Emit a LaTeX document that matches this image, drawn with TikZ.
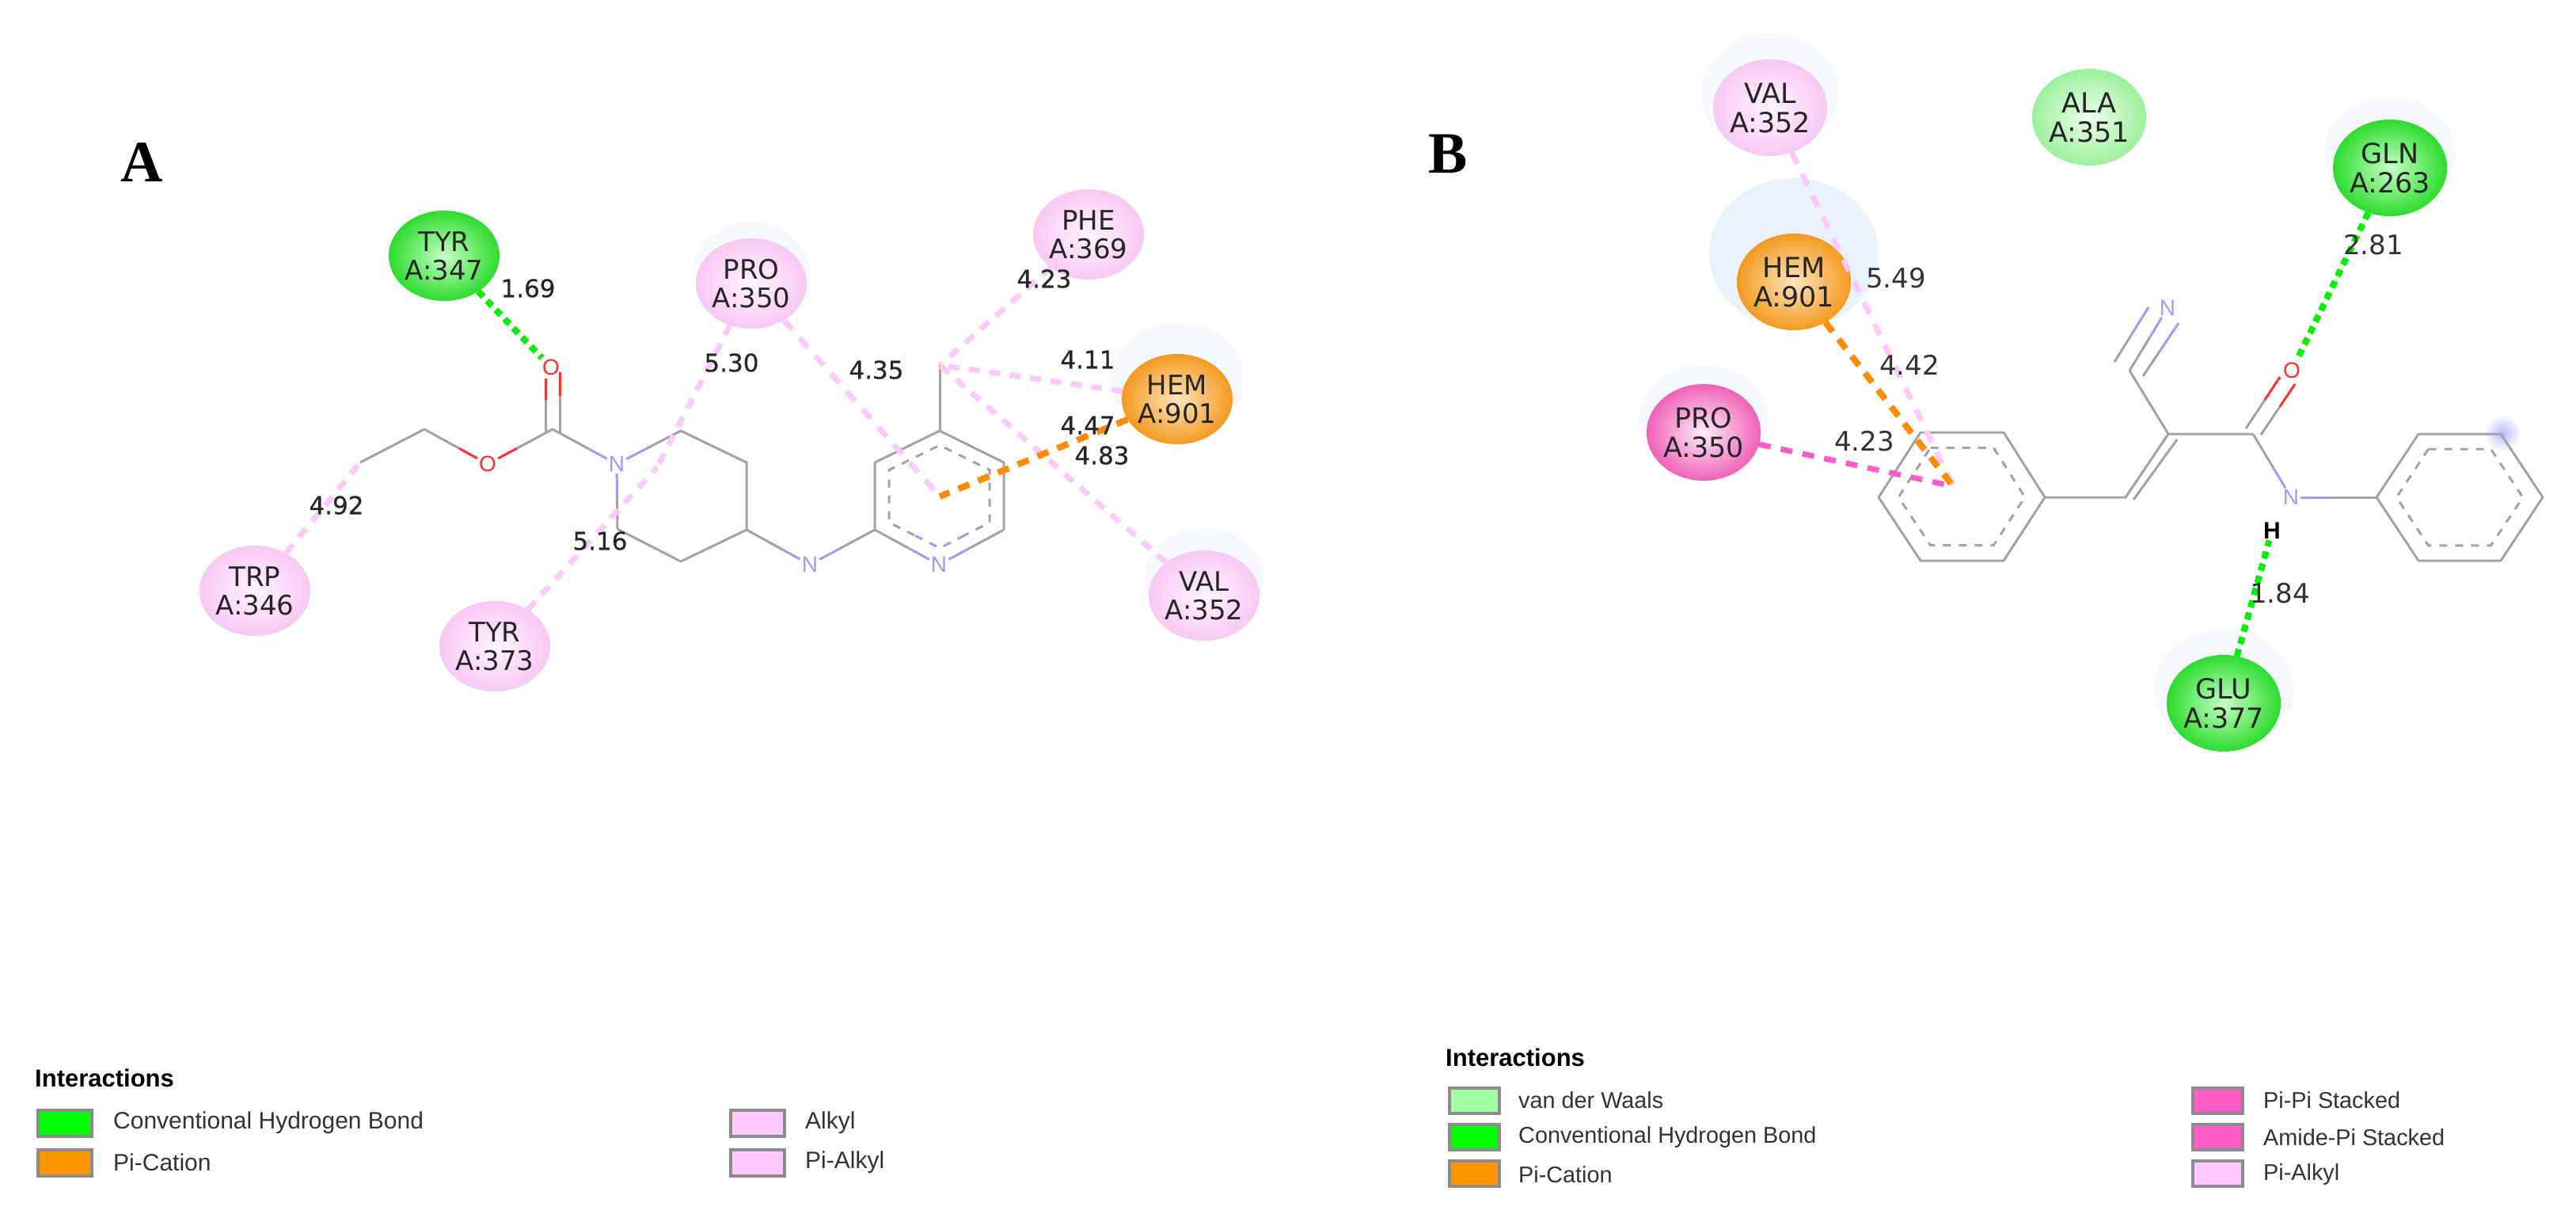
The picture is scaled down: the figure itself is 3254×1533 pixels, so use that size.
\documentclass[tikz,border=0pt]{standalone}
\usepackage{fontspec}
\setmainfont{DejaVu Sans}
\newfontfamily\legfont{Liberation Sans}
\newfontfamily\lblfont[FakeBold=0.5]{DejaVu Sans}
\newfontfamily\panelfont{Liberation Serif}
\usetikzlibrary{shapes.geometric,calc}
\definecolor{bondgray}{HTML}{A3A3A3}
\definecolor{atomN}{HTML}{9C9CFF}
\definecolor{atomO}{HTML}{FF3030}
\definecolor{halo}{HTML}{F6FAFE}
\definecolor{halob}{HTML}{EAF2FC}
\definecolor{cAlkyl}{HTML}{FFC8FF}
\definecolor{cHb}{HTML}{00F000}
\definecolor{cOrange}{HTML}{FF8C00}
\definecolor{cPink}{HTML}{FF5CC6}
\definecolor{alkIn}{HTML}{FFF4FF}
\definecolor{alkOut}{HTML}{F8C8F4}
\definecolor{hbIn}{HTML}{C4FFC4}
\definecolor{hbOut}{HTML}{2EDC2E}
\definecolor{orIn}{HTML}{FFE4BC}
\definecolor{orOut}{HTML}{F39A20}
\definecolor{piIn}{HTML}{FFECF8}
\definecolor{piOut}{HTML}{F062B8}
\definecolor{vdIn}{HTML}{ECFFEC}
\definecolor{vdOut}{HTML}{9CF09C}
\definecolor{swOrange}{HTML}{FF9500}
\definecolor{swVdw}{HTML}{A0FFA0}
\tikzset{
  res/.style={ellipse,inner sep=0pt,minimum width=122pt,minimum height=114pt,align=center,text=black!85,font=\fontsize{34}{36}\selectfont},
  resb/.style={res,minimum width=136pt,minimum height=122pt,font=\fontsize{35}{37}\selectfont},
  alkylres/.style={shade,inner color=alkIn,outer color=alkOut},
  hbres/.style={shade,inner color=hbIn,outer color=hbOut},
  orangeres/.style={shade,inner color=orIn,outer color=orOut},
  pinkres/.style={shade,inner color=piIn,outer color=piOut},
  vdwres/.style={shade,inner color=vdIn,outer color=vdOut},
  bond/.style={draw=bondgray,line width=3pt},
  nbond/.style={draw=atomN,line width=3pt},
  obond/.style={draw=atomO,line width=3pt},
  innerring/.style={draw=bondgray,line width=3pt,dash pattern=on 10pt off 10pt},
  innerblue/.style={draw=atomN,line width=3pt,dash pattern=on 10pt off 10pt},
  atomn/.style={text=atomN,inner sep=2pt,font=\legfont\fontsize{28}{28}\selectfont},
  atomo/.style={text=atomO,inner sep=2pt,font=\legfont\fontsize{28}{28}\selectfont},
  atomh/.style={text=black,inner sep=2pt,font=\legfont\bfseries\fontsize{30}{30}\selectfont},
  alkyl/.style={draw=cAlkyl,line width=7pt,dash pattern=on 14pt off 12pt},
  pialkyl/.style={draw=cAlkyl,line width=7pt,dash pattern=on 16pt off 14pt},
  hbond/.style={draw=cHb,line width=8pt,dash pattern=on 9pt off 7pt},
  cation/.style={draw=cOrange,line width=8pt,dash pattern=on 15pt off 12pt},
  pipi/.style={draw=cPink,line width=7pt,dash pattern=on 15pt off 13pt},
  dist/.style={inner sep=0pt,text=black!85,font=\lblfont\fontsize{31}{31}\selectfont},
  distb/.style={inner sep=0pt,text=black!80,font=\fontsize{34}{34}\selectfont},
  panel/.style={inner sep=0pt,text=black,font=\panelfont\bfseries\fontsize{74}{74}\selectfont},
  swatch/.style={draw=gray!90,line width=4pt,inner sep=0pt,minimum width=68pt,minimum height=33pt},
  swatchb/.style={swatch,minimum width=63pt,minimum height=32pt},
  legtitle/.style={inner sep=0pt,anchor=west,text=black,font=\legfont\bfseries\fontsize{31}{31}\selectfont},
  legtext/.style={inner sep=0pt,anchor=west,text=black!80,font=\legfont\fontsize{30}{30}\selectfont},
  legtextb/.style={inner sep=0pt,anchor=west,text=black!80,font=\legfont\fontsize{28.8}{28.8}\selectfont},
}
\newcommand{\hetbond}[3]{%
  \draw[bond] (#1) -- ($(#1)!.55!(#2)$);
  \draw[#3] ($(#1)!.55!(#2)$) -- (#2);}
\begin{document}
\begin{tikzpicture}[x=1pt,y=-1pt]
\useasboundingbox[fill=white] (0,0) rectangle (3254,1533);
% ---------- halos
\fill[halo] (949,345) ellipse (74pt and 65pt);
\fill[halo] (1487,477) ellipse (84pt and 69pt);
\fill[halo] (1521,731) ellipse (75pt and 65pt);
\fill[halo] (2236,117) ellipse (87pt and 75pt);
\fill[halob] (2266,320) ellipse (107pt and 95pt);
\fill[halo] (2152,531) ellipse (82pt and 70pt);
\fill[halo] (3019,193) ellipse (83pt and 70pt);
\fill[halo] (2809,870) ellipse (88pt and 75pt);
\shade[inner color=atomN!70,outer color=white] (3161,547) circle (24pt);
% ---------- panel labels
\node[panel] (labA) at (179,205) {A};
\node[panel] (labB) at (1829,194) {B};
% ---------- residues A
\node[res,hbres] (tyrA) at (561,323) {TYR\\A:347};
\node[res,alkylres] (trpA) at (322,746) {TRP\\A:346};
\node[res,alkylres] (tyrtA) at (625,816) {TYR\\A:373};
\node[res,alkylres] (proA) at (949,358) {PRO\\A:350};
\node[res,alkylres] (pheA) at (1375,296) {PHE\\A:369};
\node[res,orangeres] (hemA) at (1487,504) {HEM\\A:901};
\node[res,alkylres] (valA) at (1521,752) {VAL\\A:352};
% ---------- molecule A
\node[atomo] (oa) at (696,464) {O};
\node[atomo] (oe) at (616,586) {O};
\node[atomn] (na) at (779,586) {N};
\node[atomn] (nh) at (1023,713) {N};
\node[atomn] (npy) at (1186,713) {N};
\coordinate (me) at (455,584);
\coordinate (ch) at (536,542);
\coordinate (cc) at (698,542);
\coordinate (cca) at (689,546);
\coordinate (ccb) at (707,546);
\coordinate (oca) at (689,478);
\coordinate (ocb) at (707,470);
\coordinate (p1) at (860,544);
\coordinate (p2) at (943,584);
\coordinate (p3) at (943,669);
\coordinate (p4) at (860,709);
\coordinate (p5) at (780,668);
\coordinate (r1) at (1187,544);
\coordinate (r2) at (1268,584);
\coordinate (r3) at (1268,669);
\coordinate (r4) at (1187,692);
\coordinate (r5) at (1105,669);
\coordinate (r6) at (1105,584);
\coordinate (rme) at (1187,461);
\coordinate (rc) at (1187,627);
\coordinate (il) at ($(rc)!.78!(r5)$);
\coordinate (ir) at ($(rc)!.78!(r3)$);
\coordinate (iml) at ($(il)!.5!(r4)$);
\coordinate (imr) at ($(ir)!.5!(r4)$);
\coordinate (pivA) at (830,590);
\draw[bond] (me) -- (ch);
\hetbond{ch}{oe}{obond}
\hetbond{cc}{oe}{obond}
\hetbond{cc}{na}{nbond}
\draw[bond] (cca) -- ($(cca)!.6!(oca)$); \draw[obond] ($(cca)!.6!(oca)$) -- (oca);
\draw[bond] (ccb) -- ($(ccb)!.6!(ocb)$); \draw[obond] ($(ccb)!.6!(ocb)$) -- (ocb);
\hetbond{p1}{na}{nbond}
\hetbond{p5}{na}{nbond}
\draw[bond] (p1) -- (p2) -- (p3) -- (p4) -- (p5);
\hetbond{p3}{nh}{nbond}
\hetbond{r5}{nh}{nbond}
\hetbond{r5}{npy}{nbond}
\hetbond{r3}{npy}{nbond}
\draw[bond,line join=round] (r5) -- (r6) -- (r1) -- (r2) -- (r3);
\draw[bond] (r1) -- (rme);
\draw[innerring] (iml) -- (il) -- ($(rc)!.78!(r6)$) -- ($(rc)!.78!(r1)$) -- ($(rc)!.78!(r2)$) -- (ir) -- (imr);
\draw[innerblue] (imr) -- (r4) -- (iml);
% ---------- connectors A
\draw[hbond] (tyrA) -- (oa);
\draw[alkyl] (trpA) -- (me);
\draw[alkyl] (tyrtA) -- (pivA);
\draw[alkyl] (proA) -- (pivA);
\draw[pialkyl] (proA) -- (rc);
\draw[alkyl] (pheA) -- (rme);
\draw[alkyl] (hemA) -- (rme);
\draw[alkyl] (valA) -- (rme);
\draw[cation] (hemA) -- (rc);
% ---------- distances A
\node[dist] (d169) at (667,364) {1.69};
\node[dist] (d492) at (425,638) {4.92};
\node[dist] (d516) at (758,683) {5.16};
\node[dist] (d530) at (924,458) {5.30};
\node[dist] (d435) at (1107,467) {4.35};
\node[dist] (d423) at (1319,352) {4.23};
\node[dist] (d411) at (1374,454) {4.11};
\node[dist] (d447) at (1374,537) {4.47};
\node[dist] (d483) at (1392,575) {4.83};
% ---------- residues B
\node[resb,alkylres] (valB) at (2236,136) {VAL\\A:352};
\node[resb,orangeres] (hemB) at (2266,356) {HEM\\A:901};
\node[resb,pinkres] (proB) at (2152,546) {PRO\\A:350};
\node[resb,vdwres] (alaB) at (2639,148) {ALA\\A:351};
\node[resb,hbres] (glnB) at (3019,212) {GLN\\A:263};
\node[resb,hbres] (gluB) at (2809,888) {GLU\\A:377};
% ---------- molecule B
\coordinate (a1) at (2426,546);
\coordinate (a2) at (2531,546);
\coordinate (a3) at (2583,628);
\coordinate (a4) at (2531,708);
\coordinate (a5) at (2426,708);
\coordinate (a6) at (2373,628);
\coordinate (ac) at (2478,627);
\coordinate (ar) at (2467,614);
\coordinate (b1) at (3055,548);
\coordinate (b2) at (3159,548);
\coordinate (b3) at (3212,628);
\coordinate (b4) at (3159,708);
\coordinate (b5) at (3055,708);
\coordinate (b6) at (3002,628);
\coordinate (bc) at (3107,628);
\coordinate (cb) at (2685,628);
\coordinate (cbb) at (2695,631);
\coordinate (caa) at (2739,548);
\coordinate (cab) at (2750,555);
\coordinate (co) at (2846,548);
\coordinate (cn) at (2690,468);
\coordinate (coa) at (2837,541);
\coordinate (cob) at (2856,549);
\coordinate (oxa) at (2880,476);
\coordinate (oxb) at (2899,485);
\coordinate (tra) at (2671,457);
\coordinate (trb) at (2714,388);
\coordinate (trc) at (2707,475);
\coordinate (trd) at (2752,408);
\node[atomo] (ob) at (2895,468) {O};
\node[atomn] (nnit) at (2738,389) {N};
\node[atomn] (nam) at (2894,628) {N};
\node[atomh] (hb) at (2870,670) {H};
\draw[bond,line join=round] (a1) -- (a2) -- (a3) -- (a4) -- (a5) -- (a6) -- cycle;
\draw[innerring] ($(ac)!.76!(a1)$) -- ($(ac)!.76!(a2)$) -- ($(ac)!.76!(a3)$) -- ($(ac)!.76!(a4)$) -- ($(ac)!.76!(a5)$) -- ($(ac)!.76!(a6)$) -- cycle;
\draw[bond,line join=round] (b1) -- (b2) -- (b3) -- (b4) -- (b5) -- (b6) -- cycle;
\draw[innerring] ($(bc)!.76!(b1)$) -- ($(bc)!.76!(b2)$) -- ($(bc)!.76!(b3)$) -- ($(bc)!.76!(b4)$) -- ($(bc)!.76!(b5)$) -- ($(bc)!.76!(b6)$) -- cycle;
\draw[bond] (a3) -- (cb) -- (caa) -- (co);
\draw[bond] (cbb) -- (cab);
\draw[bond] (caa) -- (cn);
\hetbond{cn}{nnit}{nbond}
\draw[bond] (tra) -- ($(tra)!.5!(trb)$); \draw[nbond] ($(tra)!.5!(trb)$) -- (trb);
\draw[bond] (trc) -- ($(trc)!.5!(trd)$); \draw[nbond] ($(trc)!.5!(trd)$) -- (trd);
\draw[bond] (coa) -- ($(coa)!.55!(oxa)$); \draw[obond] ($(coa)!.55!(oxa)$) -- (oxa);
\draw[bond] (cob) -- ($(cob)!.55!(oxb)$); \draw[obond] ($(cob)!.55!(oxb)$) -- (oxb);
\hetbond{co}{nam}{nbond}
\hetbond{b6}{nam}{nbond}
% ---------- connectors B
\draw[pialkyl] (valB) -- (ar);
\draw[cation] (hemB) -- (ar);
\draw[pipi] (proB) -- (ar);
\draw[hbond] (glnB) -- (ob);
\draw[hbond] (gluB) -- (hb);
% ---------- distances B
\node[distb] (d549) at (2395,351) {5.49};
\node[distb] (d442) at (2412,461) {4.42};
\node[distb] (d423b) at (2355,557) {4.23};
\node[distb] (d281) at (2998,309) {2.81};
\node[distb] (d184) at (2880,749) {1.84};
% ---------- legend A
\node[legtitle] (tA) at (44,1361) {Interactions};
\node[swatch,fill=green] (s1) at (82,1418) {};
\node[swatch,fill=swOrange] (s2) at (82,1468) {};
\node[swatch,fill=cAlkyl] (s3) at (957,1418) {};
\node[swatch,fill=cAlkyl] (s4) at (957,1468) {};
\node[legtext] (t1) at (143,1418) {Conventional Hydrogen Bond};
\node[legtext] (t2) at (143,1468) {Pi-Cation};
\node[legtext] (t3) at (1017,1418) {Alkyl};
\node[legtext] (t4) at (1017,1468) {Pi-Alkyl};
% ---------- legend B
\node[legtitle] (tB) at (1826,1335) {Interactions};
\node[swatchb,fill=swVdw] (u1) at (1862,1390) {};
\node[swatchb,fill=green] (u2) at (1862,1436) {};
\node[swatchb,fill=swOrange] (u3) at (1862,1482) {};
\node[swatchb,fill=cPink] (u4) at (2801,1390) {};
\node[swatchb,fill=cPink] (u5) at (2801,1436) {};
\node[swatchb,fill=cAlkyl] (u6) at (2801,1482) {};
\node[legtextb] (v1) at (1918,1389) {van der Waals};
\node[legtextb] (v2) at (1918,1436) {Conventional Hydrogen Bond};
\node[legtextb] (v3) at (1918,1483) {Pi-Cation};
\node[legtextb] (v4) at (2859,1389) {Pi-Pi Stacked};
\node[legtextb] (v5) at (2859,1436) {Amide-Pi Stacked};
\node[legtextb] (v6) at (2859,1483) {Pi-Alkyl};
\end{tikzpicture}
\end{document}
